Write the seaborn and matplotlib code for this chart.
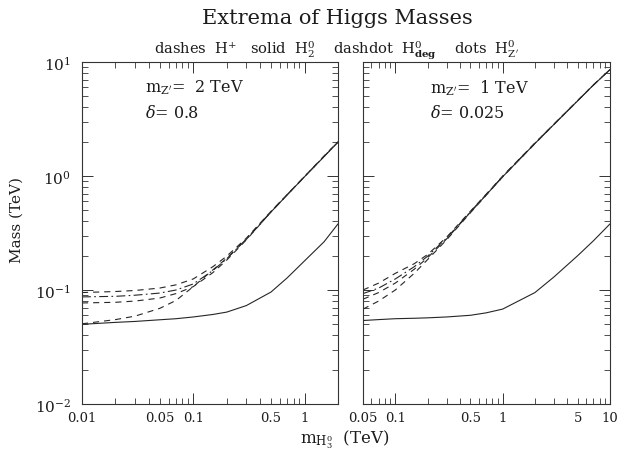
import numpy as np
import pandas as pd
import matplotlib
matplotlib.use("Agg")
import matplotlib.pyplot as plt
import seaborn as sns
from matplotlib.ticker import FixedLocator, FuncFormatter, NullFormatter, LogFormatterMathtext

# ---------------- data ----------------
# left panel: m_Z' = 2 TeV, delta = 0.8
x_left = [0.01, 0.02, 0.03, 0.05, 0.07, 0.1, 0.15, 0.2, 0.3, 0.5, 0.7, 1.0, 1.5, 2.0]
left_hplus_max = [0.095, 0.097, 0.099, 0.104, 0.111, 0.125, 0.16, 0.198, 0.285, 0.49, 0.69, 0.99, 1.5, 2.0]
left_hdeg = [0.087, 0.088, 0.090, 0.094, 0.100, 0.113, 0.148, 0.188, 0.28, 0.487, 0.687, 0.988, 1.49, 1.99]
left_hzp = [0.077, 0.078, 0.080, 0.085, 0.093, 0.107, 0.142, 0.183, 0.275, 0.484, 0.684, 0.985, 1.48, 1.98]
left_hplus_min = [0.0505, 0.055, 0.059, 0.069, 0.081, 0.107, 0.15, 0.19, 0.278, 0.482, 0.682, 0.983, 1.48, 1.98]
left_h2 = [0.050, 0.052, 0.053, 0.0548, 0.056, 0.058, 0.061, 0.064, 0.073, 0.096, 0.128, 0.18, 0.265, 0.38]

# right panel: m_Z' = 1 TeV, delta = 0.025
x_right = [0.05, 0.07, 0.1, 0.15, 0.2, 0.3, 0.5, 0.7, 1.0, 2.0, 3.0, 5.0, 7.0, 10.0]
right_hplus_max = [0.100, 0.115, 0.140, 0.170, 0.205, 0.29, 0.49, 0.69, 1.0, 1.95, 2.85, 4.6, 6.3, 8.6]
right_hdeg = [0.093, 0.104, 0.125, 0.160, 0.198, 0.285, 0.485, 0.685, 0.99, 1.94, 2.84, 4.58, 6.28, 8.58]
right_hzp = [0.083, 0.095, 0.115, 0.152, 0.192, 0.28, 0.48, 0.68, 0.985, 1.93, 2.83, 4.57, 6.27, 8.57]
right_hplus_min = [0.068, 0.080, 0.100, 0.140, 0.185, 0.275, 0.475, 0.675, 0.98, 1.92, 2.82, 4.56, 6.26, 8.56]
right_h2 = [0.054, 0.055, 0.056, 0.0565, 0.057, 0.058, 0.060, 0.063, 0.068, 0.095, 0.13, 0.20, 0.27, 0.38]

curve_names = ["Hplus_max", "Hdeg", "HZp", "Hplus_min", "H2"]
dash_styles = {
    "Hplus_max": (5.5, 4.5),
    "Hdeg": (8, 3, 1.5, 3),
    "HZp": (5.5, 4.5),
    "Hplus_min": (5.5, 4.5),
    "H2": "",
}


def long_frame(x, series):
    rows = []
    for name, vals in zip(curve_names, series):
        for xv, yv in zip(x, vals):
            rows.append({"x": xv, "mass": yv, "curve": name})
    return pd.DataFrame(rows)


df_left = long_frame(x_left, [left_hplus_max, left_hdeg, left_hzp, left_hplus_min, left_h2])
df_right = long_frame(x_right, [right_hplus_max, right_hdeg, right_hzp, right_hplus_min, right_h2])

# ---------------- style ----------------
sns.set_theme(style="ticks")
plt.rcParams["font.family"] = ["DejaVu Serif"]
plt.rcParams["mathtext.fontset"] = "dejavuserif"
plt.rcParams["axes.linewidth"] = 0.8

TXT = "#1c1c1c"
W, H = 620, 460
fig = plt.figure(figsize=(6.2, 4.6), dpi=100)
ax_l = fig.add_axes([82 / W, 55 / H, 256 / W, 342 / H])
ax_r = fig.add_axes([363 / W, 55 / H, 247 / W, 342 / H])

for ax, df in ((ax_l, df_left), (ax_r, df_right)):
    sns.lineplot(data=df, x="x", y="mass", style="curve", dashes=dash_styles,
                 color="#262626", linewidth=0.8, legend=False, ax=ax,
                 estimator=None, sort=True)
    ax.set_xscale("log")
    ax.set_yscale("log")
    ax.set_ylim(0.01, 10)
    ax.set_xlabel("")
    ax.set_ylabel("")
    for s in ax.spines.values():
        s.set_color("#333333")
        s.set_linewidth(0.8)

ax_l.set_xlim(0.01, 2.0)
ax_r.set_xlim(0.05, 10.0)


def fmt_major(v, p):
    return f"{v:g}"


def fmt_minor(v, p):
    if v <= 0:
        return ""
    mant = v / 10 ** np.floor(np.log10(v) + 1e-9)
    return f"{v:g}" if abs(mant - 5) < 1e-6 else ""


def minors(lo_dec, hi_dec):
    out = []
    for d in range(lo_dec, hi_dec):
        for m in range(2, 10):
            out.append(m * 10.0 ** d)
    return out


ax_l.xaxis.set_major_locator(FixedLocator([0.01, 0.1, 1.0]))
ax_l.xaxis.set_minor_locator(FixedLocator([v for v in minors(-2, 1) if v <= 2.0]))
ax_r.xaxis.set_major_locator(FixedLocator([0.1, 1.0, 10.0]))
ax_r.xaxis.set_minor_locator(FixedLocator([v for v in minors(-2, 1) if v >= 0.05]))
for ax in (ax_l, ax_r):
    ax.xaxis.set_major_formatter(FuncFormatter(fmt_major))
    ax.xaxis.set_minor_formatter(FuncFormatter(fmt_minor))
    ax.yaxis.set_major_locator(FixedLocator([0.01, 0.1, 1.0, 10.0]))
    ax.yaxis.set_minor_locator(FixedLocator(minors(-2, 1)))
    ax.yaxis.set_minor_formatter(NullFormatter())
    ax.tick_params(which="major", direction="in", length=8, width=0.7,
                   top=True, right=True, colors="#333333", labelcolor=TXT,
                   labelsize=9.5, pad=5)
    ax.tick_params(which="minor", direction="in", length=4, width=0.6,
                   top=True, right=True, colors="#333333", labelcolor=TXT,
                   labelsize=9.5, pad=5)

ax_l.yaxis.set_major_formatter(LogFormatterMathtext())
ax_l.tick_params(axis="y", which="major", labelsize=11, pad=8)
ax_r.yaxis.set_major_formatter(NullFormatter())

# ---------------- texts ----------------
def fx(px):
    return px / W


def fy(py):
    return 1 - py / H


fig.text(fx(337), fy(18), "Extrema of Higgs Masses", ha="center", va="center",
         fontsize=15, color=TXT)
fig.text(fx(336), fy(50),
         r"dashes  $\mathrm{H}^{+}$   solid  $\mathrm{H}_{2}^{0}$    dashdot  "
         r"$\mathrm{H}_{\mathbf{deg}}^{0}$    dots  $\mathrm{H}_{\mathrm{Z'}}^{0}$",
         ha="center", va="center", fontsize=10.5, color=TXT)
fig.text(fx(17), fy(220), "Mass (TeV)", rotation=90, ha="center", va="center",
         fontsize=11, color=TXT)
fig.text(fx(345), fy(440), r"$\mathrm{m}_{\mathrm{H}_{3}^{0}}$  (TeV)", ha="center",
         va="center", fontsize=12, color=TXT)

fig.text(fx(145), fy(88), r"$\mathrm{m}_{\mathrm{Z'}}$=  2 TeV", ha="left", va="center",
         fontsize=11.5, color=TXT)
fig.text(fx(145), fy(113), r"$\delta$= 0.8", ha="left", va="center",
         fontsize=11.5, color=TXT)
fig.text(fx(430), fy(88), r"$\mathrm{m}_{\mathrm{Z'}}$=  1 TeV", ha="left", va="center",
         fontsize=11.5, color=TXT)
fig.text(fx(430), fy(113), r"$\delta$= 0.025", ha="left", va="center",
         fontsize=11.5, color=TXT)

fig.savefig("out.png", dpi=100, facecolor="white")
